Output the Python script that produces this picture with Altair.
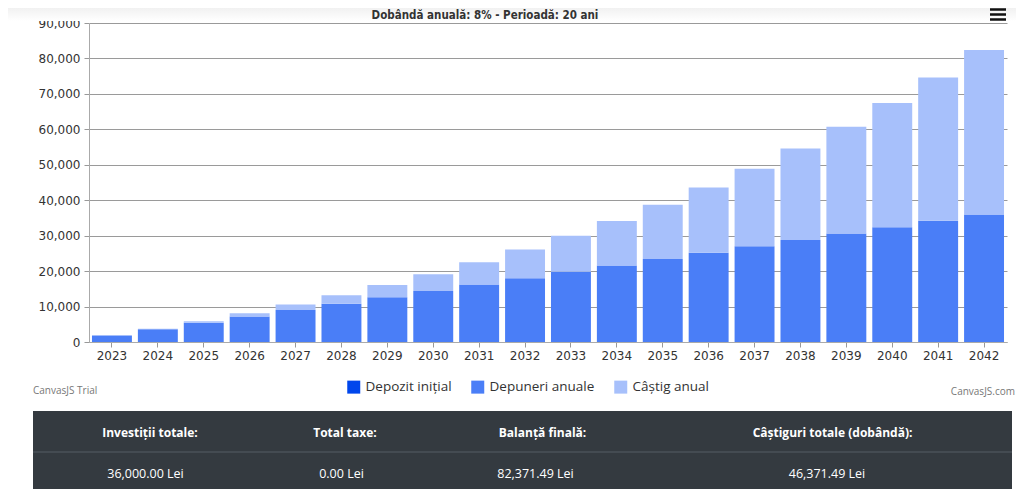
import altair as alt
import pandas as pd

# ---------------- data ----------------
years = ["2023", "2024", "2025", "2026", "2027", "2028", "2029", "2030", "2031", "2032",
         "2033", "2034", "2035", "2036", "2037", "2038", "2039", "2040", "2041", "2042"]
series_names = ["Depozit inițial", "Depuneri anuale", "Câștig anual"]
depozit_initial = [0, 0, 0, 0, 0, 0, 0, 0, 0, 0, 0, 0, 0, 0, 0, 0, 0, 0, 0, 0]
depuneri_anuale = [1800, 3600, 5400, 7200, 9000, 10800, 12600, 14400, 16200, 18000,
                   19800, 21600, 23400, 25200, 27000, 28800, 30600, 32400, 34200, 36000]
castig_anual = [0, 144, 443.52, 911.00, 1559.88, 2404.67, 3461.05, 4745.93, 6277.60, 8075.81,
                10161.88, 12558.83, 15291.53, 18386.86, 21873.81, 25783.71, 30150.41, 35010.44,
                40403.27, 46371.49]
y_ticks = [0, 10000, 20000, 30000, 40000, 50000, 60000, 70000, 80000, 90000]
series_colors = ["#0046EC", "#4A7EF7", "#A7C0FB"]

chart_title = "Dobândă anuală: 8% - Perioadă: 20 ani"
table_headers = ["Investiții totale:", "Total taxe:", "Balanță finală:", "Câștiguri totale (dobândă):"]
table_values = ["36,000.00 Lei", "0.00 Lei", "82,371.49 Lei", "46,371.49 Lei"]
credit_left = "CanvasJS Trial"
credit_right = "CanvasJS.com"

rows = []
for i, yr in enumerate(years):
    for k, (name, vals) in enumerate(zip(series_names, [depozit_initial, depuneri_anuale, castig_anual])):
        rows.append({"An": yr, "Serie": name, "Valoare": vals[i], "Ordine": k})
df = pd.DataFrame(rows)

# ---------------- layout constants ----------------
W, H = 918, 319
TICK_FONT = "DejaVu Sans"
UI_FONT = "Open Sans"

bars = alt.Chart(df).mark_bar().encode(
    x=alt.X("An:N", sort=years,
            scale=alt.Scale(paddingInner=0.13, paddingOuter=0.065),
            axis=alt.Axis(title=None, labelAngle=0, grid=False, ticks=True, tickSize=5,
                          labelPadding=3, domain=True)),
    y=alt.Y("Valoare:Q", stack="zero",
            scale=alt.Scale(domain=[0, 90000], nice=False),
            axis=alt.Axis(title=None, values=y_ticks, format=",.0f", grid=True, tickSize=5,
                          labelPadding=4, domain=True)),
    color=alt.Color("Serie:N",
                    scale=alt.Scale(domain=series_names, range=series_colors),
                    legend=alt.Legend(title=None, orient="none", legendX=258, legendY=357,
                                      direction="horizontal", symbolType="square",
                                      symbolSize=169, symbolStrokeWidth=0,
                                      labelFont=UI_FONT, labelFontSize=13.5, labelColor="#333333",
                                      columnPadding=19, labelOffset=5, padding=0)),
    order=alt.Order("Ordine:Q", sort="ascending"),
)


def one_row(value):
    return pd.DataFrame({"t": [value]})


def text_layer(txt, x, y, **kw):
    return alt.Chart(one_row(txt)).mark_text(**kw).encode(
        x=alt.value(x), y=alt.value(y), text="t:N")


layers = []

# soft header band
layers.append(
    alt.Chart(one_row("band")).mark_rect(
        color=alt.Gradient(gradient="linear",
                           stops=[alt.GradientStop(color="#f1f1f1", offset=0),
                                  alt.GradientStop(color="#ffffff", offset=1)],
                           x1=0, x2=0, y1=0, y2=1)
    ).encode(x=alt.value(-81), x2=alt.value(927), y=alt.value(-15), y2=alt.value(-2))
)

layers.append(bars)

# title
layers.append(text_layer(chart_title, 396, -4, font="Liberation Sans Narrow, DejaVu Sans Condensed, sans-serif",
                         fontSize=11.5, fontWeight="bold", color="#333333", align="center",
                         baseline="alphabetic"))

# hamburger menu
for yy in [-13.5, -8.5, -3.5]:
    layers.append(
        alt.Chart(one_row("m")).mark_rule(color="#111111", strokeWidth=2.5).encode(
            x=alt.value(901), x2=alt.value(917), y=alt.value(yy))
    )

# credits
layers.append(text_layer(credit_left, -56, 368, font=UI_FONT, fontSize=10, color="#777777",
                         align="left", baseline="middle"))
layers.append(text_layer(credit_right, 926, 369, font=UI_FONT, fontSize=10, color="#777777",
                         align="right", baseline="middle"))

# summary table
layers.append(
    alt.Chart(one_row("table")).mark_rect(color="#343a40").encode(
        x=alt.value(-56), x2=alt.value(923), y=alt.value(388), y2=alt.value(466))
)
layers.append(
    alt.Chart(one_row("div")).mark_rule(color="#4a5259", strokeWidth=1.5).encode(
        x=alt.value(-56), x2=alt.value(923), y=alt.value(429))
)
header_x = [61, 256, 453.5, 743.5]
value_x = [56.5, 252.5, 446.5, 738]
for h, hx in zip(table_headers, header_x):
    layers.append(text_layer(h, hx, 410, font=UI_FONT, fontSize=12, fontWeight="bold",
                             color="#ffffff", align="center", baseline="middle"))
for v, vx in zip(table_values, value_x):
    layers.append(text_layer(v, vx, 451, font=UI_FONT, fontSize=12.5,
                             color="#ffffff", align="center", baseline="middle"))

chart = alt.layer(*layers).properties(
    width=W, height=H,
    autosize=alt.AutoSizeParams(type="none"),
    padding={"left": 81, "top": 15, "right": 9, "bottom": 147},
).configure_view(stroke=None).configure_axis(
    labelFont=TICK_FONT, labelFontSize=12, labelColor="#333333",
    tickColor="#999999", domainColor="#aaaaaa", gridColor="#9a9a9a",
)

chart.save("out.html", embed_options={"renderer": "svg", "actions": False})
